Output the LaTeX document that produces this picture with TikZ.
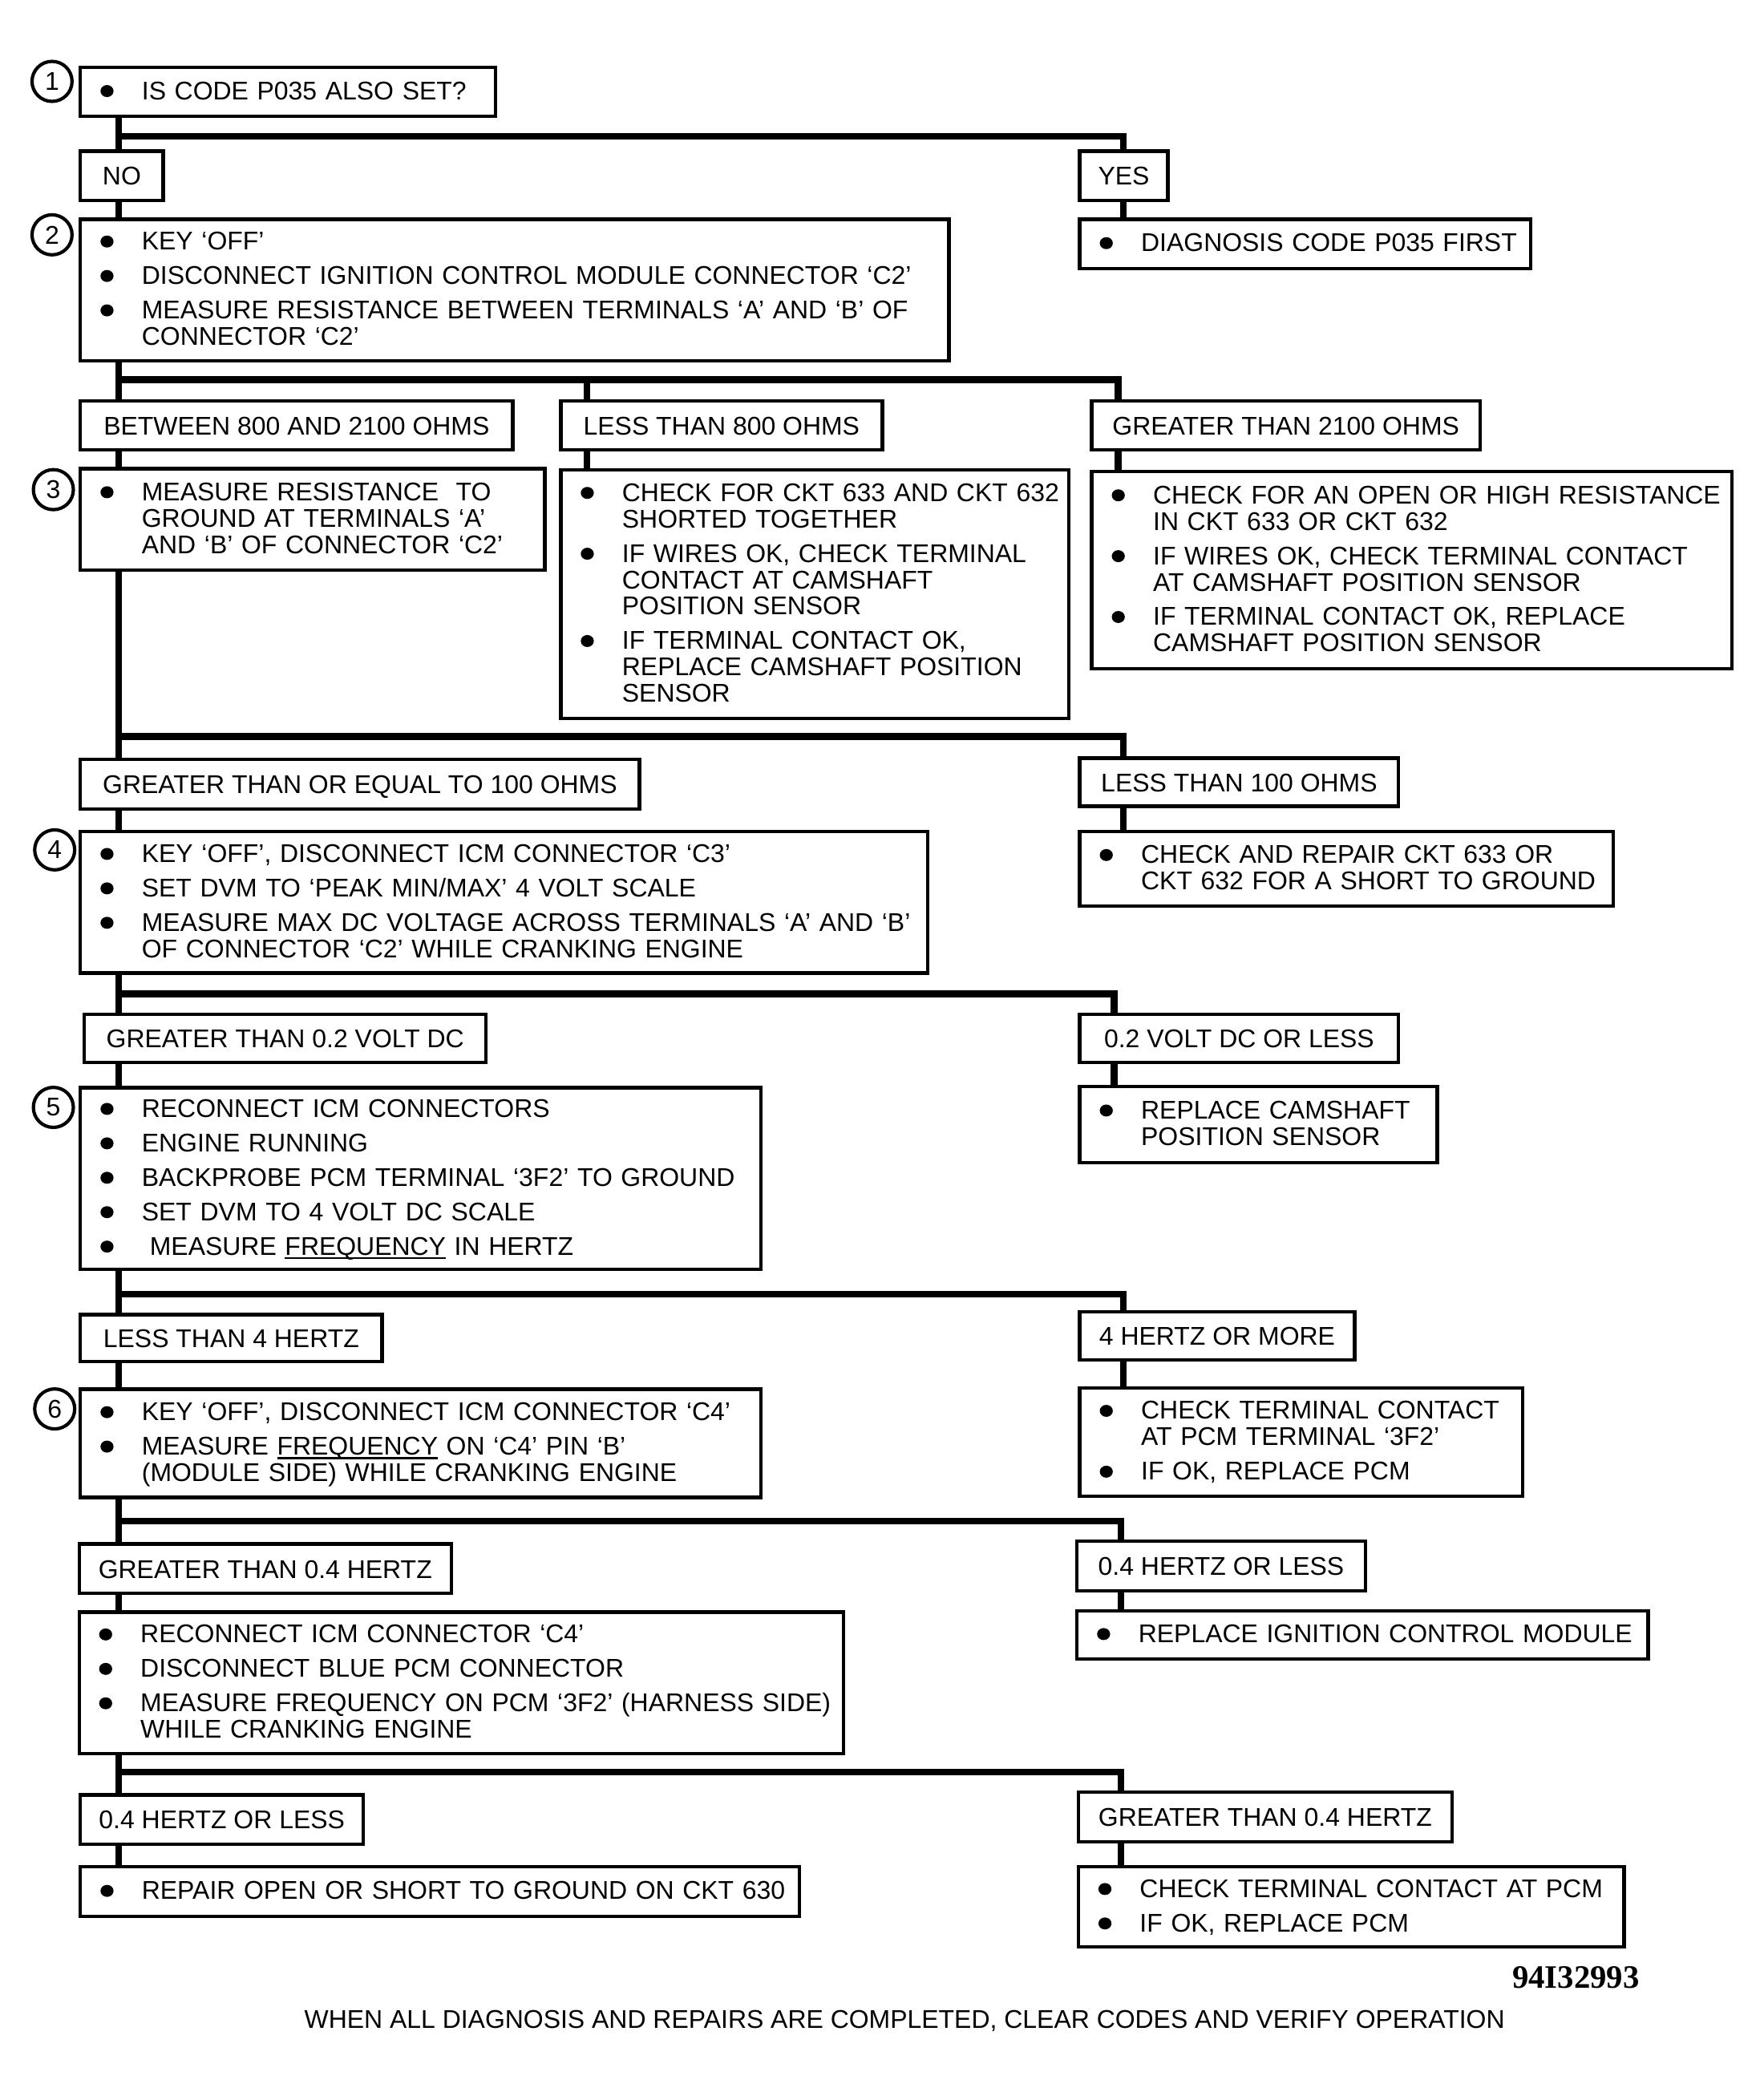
\documentclass[tikz,border=0pt]{standalone}
\usepackage{fontspec}
\setmainfont{Liberation Sans}
\newfontfamily\codefont{Liberation Serif}
\usetikzlibrary{calc}
\setlength\parindent{0pt}
\newcommand\txtf{\fontsize{19.2pt}{19.8pt}\selectfont}
\newcommand\bdotx{\tikz[baseline=0pt]\fill (4.9pt,6.3pt) ellipse (4.9pt and 4.5pt);}
\newcommand\bitem[1]{\hspace*{15pt}\makebox[31pt][l]{\bdotx}\mbox{#1}}
\newcommand\citem[1]{\hspace*{46pt}\mbox{#1}}
\newcommand\fstrut{\rule{0pt}{16pt}}
\newcommand\lstrut{\rule[-4.5pt]{0pt}{4.5pt}}
\newsavebox\ulinebox
\newcommand\uline[1]{\sbox\ulinebox{#1}\rlap{\rule[-3pt]{\wd\ulinebox}{1.5pt}}\usebox\ulinebox}
\begin{document}
\begin{tikzpicture}[x=1pt,y=-1pt,
  conn/.style={line width=5pt},
  lbox/.style={draw, line width=2.6pt, anchor=north west, inner sep=0pt, font=\txtf, text height=14pt, text depth=0pt, align=center},
  cbox/.style={draw, line width=2.6pt, anchor=north west, inner sep=0pt, font=\txtf, align=left},
  num/.style={circle, draw, line width=2.5pt, minimum size=30pt, inner sep=0pt, font=\txtf}]
\fill[white] (0,0) rectangle (1322,1568);
\useasboundingbox (0,0) rectangle (1322,1568);

% step numbers
\node[num] (n1) at (39,61) {1};
\node[num] (n2) at (39,176) {2};
\node[num] (n3) at (40,367) {3};
\node[num] (n4) at (41,637) {4};
\node[num] (n5) at (40,830) {5};
\node[num] (n6) at (41,1056) {6};

% step 1
\node[cbox, text width=311pt, minimum height=37pt] (b1) at (59,49) {\fstrut\bitem{IS CODE P035 ALSO SET?}\lstrut};
\node[lbox, minimum width=62pt, minimum height=37pt] (no) at (59,112) {NO};
\node[lbox, minimum width=66pt, minimum height=37pt] (yes) at (808,112) {YES};
\node[cbox, text width=338pt, minimum height=37pt] (diag) at (808,163) {\fstrut\bitem{DIAGNOSIS CODE P035 FIRST}\lstrut};

% step 2
\node[cbox, text width=651pt, minimum height=106pt] (b2) at (59,163) {\fstrut\bitem{KEY ‘OFF’}\\[6pt]
\bitem{DISCONNECT IGNITION CONTROL MODULE CONNECTOR ‘C2’}\\[6pt]
\bitem{MEASURE RESISTANCE BETWEEN TERMINALS ‘A’ AND ‘B’ OF}\\
\citem{CONNECTOR ‘C2’}\lstrut};
\node[lbox, minimum width=324pt, minimum height=37pt] (btw) at (59,299) {BETWEEN 800 AND 2100 OHMS};
\node[lbox, minimum width=241pt, minimum height=37pt] (ls8) at (419,299) {LESS THAN 800 OHMS};
\node[lbox, minimum width=291pt, minimum height=37pt] (gt21) at (817,299) {GREATER THAN 2100 OHMS};
\node[cbox, text width=381pt, minimum height=186pt] (ls8c) at (419,351) {\fstrut\bitem{CHECK FOR CKT 633 AND CKT 632}\\
\citem{SHORTED TOGETHER}\\[6pt]
\bitem{IF WIRES OK, CHECK TERMINAL}\\
\citem{CONTACT AT CAMSHAFT}\\
\citem{POSITION SENSOR}\\[6pt]
\bitem{IF TERMINAL CONTACT OK,}\\
\citem{REPLACE CAMSHAFT POSITION}\\
\citem{SENSOR}\lstrut};
\node[cbox, text width=480pt, minimum height=148pt] (gt21c) at (817,352) {\fstrut\bitem{CHECK FOR AN OPEN OR HIGH RESISTANCE}\\
\citem{IN CKT 633 OR CKT 632}\\[6pt]
\bitem{IF WIRES OK, CHECK TERMINAL CONTACT}\\
\citem{AT CAMSHAFT POSITION SENSOR}\\[6pt]
\bitem{IF TERMINAL CONTACT OK, REPLACE}\\
\citem{CAMSHAFT POSITION SENSOR}\lstrut};

% step 3
\node[cbox, text width=348pt, minimum height=76pt] (b3) at (59,350) {\fstrut\bitem{MEASURE RESISTANCE\ \ TO}\\
\citem{GROUND AT TERMINALS ‘A’}\\
\citem{AND ‘B’ OF CONNECTOR ‘C2’}\lstrut};
\node[lbox, minimum width=419pt, minimum height=37pt] (ge100) at (59,568) {GREATER THAN OR EQUAL TO 100 OHMS};
\node[lbox, minimum width=239pt, minimum height=36pt] (lt100) at (808,567) {LESS THAN 100 OHMS};
\node[cbox, text width=400pt, minimum height=56pt] (c633) at (808,622) {\fstrut\bitem{CHECK AND REPAIR CKT 633 OR}\\
\citem{CKT 632 FOR A SHORT TO GROUND}\lstrut};

% step 4
\node[cbox, text width=635pt, minimum height=106pt] (b4) at (59,622) {\fstrut\bitem{KEY ‘OFF’, DISCONNECT ICM CONNECTOR ‘C3’}\\[6pt]
\bitem{SET DVM TO ‘PEAK MIN/MAX’ 4 VOLT SCALE}\\[6pt]
\bitem{MEASURE MAX DC VOLTAGE ACROSS TERMINALS ‘A’ AND ‘B’}\\
\citem{OF CONNECTOR ‘C2’ WHILE CRANKING ENGINE}\lstrut};
\node[lbox, minimum width=301pt, minimum height=36pt] (gt02) at (62,759) {GREATER THAN 0.2 VOLT DC};
\node[lbox, minimum width=239pt, minimum height=36pt] (le02) at (808,759) {0.2 VOLT DC OR LESS};
\node[cbox, text width=268pt, minimum height=57pt] (repcam) at (808,813) {\fstrut\bitem{REPLACE CAMSHAFT}\\
\citem{POSITION SENSOR}\lstrut};

% step 5
\node[cbox, text width=510pt, minimum height=136pt] (b5) at (59,814) {\fstrut\bitem{RECONNECT ICM CONNECTORS}\\[6pt]
\bitem{ENGINE RUNNING}\\[6pt]
\bitem{BACKPROBE PCM TERMINAL ‘3F2’ TO GROUND}\\[6pt]
\bitem{SET DVM TO 4 VOLT DC SCALE}\\[6pt]
\bitem{\hspace{6pt}MEASURE \uline{FREQUENCY} IN HERTZ}\lstrut};
\node[lbox, minimum width=226pt, minimum height=35pt] (lt4) at (59,984) {LESS THAN 4 HERTZ};
\node[lbox, minimum width=206pt, minimum height=36pt] (ge4) at (808,982) {4 HERTZ OR MORE};
\node[cbox, text width=332pt, minimum height=81pt] (cpcm) at (808,1039) {\fstrut\bitem{CHECK TERMINAL CONTACT}\\
\citem{AT PCM TERMINAL ‘3F2’}\\[6pt]
\bitem{IF OK, REPLACE PCM}\lstrut};

% step 6
\node[cbox, text width=510pt, minimum height=81pt] (b6) at (59,1040) {\fstrut\bitem{KEY ‘OFF’, DISCONNECT ICM CONNECTOR ‘C4’}\\[6pt]
\bitem{MEASURE \uline{FREQUENCY} ON ‘C4’ PIN ‘B’}\\
\citem{(MODULE SIDE) WHILE CRANKING ENGINE}\lstrut};
\node[lbox, minimum width=279pt, minimum height=37pt] (gt04) at (58,1156) {GREATER THAN 0.4 HERTZ};
\node[lbox, minimum width=216pt, minimum height=37pt] (le04r) at (806,1154) {0.4 HERTZ OR LESS};
\node[cbox, text width=428pt, minimum height=36pt] (repicm) at (806,1206) {\fstrut\bitem{REPLACE IGNITION CONTROL MODULE}\lstrut};

% step 7
\node[cbox, text width=573pt, minimum height=106pt] (b7) at (58,1207) {\fstrut\bitem{RECONNECT ICM CONNECTOR ‘C4’}\\[6pt]
\bitem{DISCONNECT BLUE PCM CONNECTOR}\\[6pt]
\bitem{MEASURE FREQUENCY ON PCM ‘3F2’ (HARNESS SIDE)}\\
\citem{WHILE CRANKING ENGINE}\lstrut};
\node[lbox, minimum width=212pt, minimum height=37pt] (le04l) at (59,1344) {0.4 HERTZ OR LESS};
\node[lbox, minimum width=280pt, minimum height=37pt] (gt04r) at (807,1342) {GREATER THAN 0.4 HERTZ};
\node[cbox, text width=539pt, minimum height=37pt] (repopen) at (59,1398) {\fstrut\bitem{REPAIR OPEN OR SHORT TO GROUND ON CKT 630}\lstrut};
\node[cbox, text width=409pt, minimum height=60pt] (cpcm2) at (807,1398) {\fstrut\bitem{CHECK TERMINAL CONTACT AT PCM}\\[6pt]
\bitem{IF OK, REPLACE PCM}\lstrut};

% footer
\node[anchor=base east, font={\codefont\bfseries\fontsize{24.5pt}{25pt}\selectfont}, inner sep=0pt] (code) at (1229,1490) {94I32993};
\node[anchor=base, font=\txtf, inner sep=0pt] (foot) at (678,1520) {WHEN ALL DIAGNOSIS AND REPAIRS ARE COMPLETED, CLEAR CODES AND VERIFY OPERATION};

% connectors
\coordinate (tx) at (89,0);
\coordinate (j1) at (89,102);
\coordinate (j2) at (89,284.5);
\coordinate (j3) at (89,552);
\coordinate (j4) at (89,745);
\coordinate (j5) at (89,970);
\coordinate (j6) at (89,1140);
\coordinate (j7) at (89,1328);

\draw[conn] (b1.south -| tx) -- (no.north -| tx);
\draw[conn] (j1) -| ($(yes.north west)+(34,0)$);
\draw[conn] (no.south -| tx) -- (b2.north -| tx);
\draw[conn] ($(yes.south west)+(34,0)$) -- ($(diag.north west)+(34,0)$);

\coordinate (ls8x) at ($(ls8.north west)+(21,0)$);
\draw[conn] (b2.south -| tx) -- (btw.north -| tx);
\draw[conn] (j2) -| ($(gt21.north west)+(21,0)$);
\draw[conn] (j2 -| ls8x) -- (ls8x);
\draw[conn] (btw.south -| tx) -- (b3.north -| tx);
\draw[conn] ($(ls8.south west)+(21,0)$) -- ($(ls8c.north west)+(21,0)$);
\draw[conn] ($(gt21.south west)+(21,0)$) -- ($(gt21c.north west)+(21,0)$);

\draw[conn] (b3.south -| tx) -- (ge100.north -| tx);
\draw[conn] (j3) -| ($(lt100.north west)+(34,0)$);
\draw[conn] (ge100.south -| tx) -- (b4.north -| tx);
\draw[conn] ($(lt100.south west)+(34,0)$) -- ($(c633.north west)+(34,0)$);

\draw[conn] (b4.south -| tx) -- (gt02.north -| tx);
\draw[conn] (j4) -| ($(le02.north west)+(27,0)$);
\draw[conn] (gt02.south -| tx) -- (b5.north -| tx);
\draw[conn] ($(le02.south west)+(27,0)$) -- ($(repcam.north west)+(27,0)$);

\draw[conn] (b5.south -| tx) -- (lt4.north -| tx);
\draw[conn] (j5) -| ($(ge4.north west)+(34,0)$);
\draw[conn] (lt4.south -| tx) -- (b6.north -| tx);
\draw[conn] ($(ge4.south west)+(34,0)$) -- ($(cpcm.north west)+(34,0)$);

\draw[conn] (b6.south -| tx) -- (gt04.north -| tx);
\draw[conn] (j6) -| ($(le04r.north west)+(34,0)$);
\draw[conn] (gt04.south -| tx) -- (b7.north -| tx);
\draw[conn] ($(le04r.south west)+(34,0)$) -- ($(repicm.north west)+(34,0)$);

\draw[conn] (b7.south -| tx) -- (le04l.north -| tx);
\draw[conn] (j7) -| ($(gt04r.north west)+(33,0)$);
\draw[conn] (le04l.south -| tx) -- (repopen.north -| tx);
\draw[conn] ($(gt04r.south west)+(33,0)$) -- ($(cpcm2.north west)+(33,0)$);
\end{tikzpicture}
\end{document}
